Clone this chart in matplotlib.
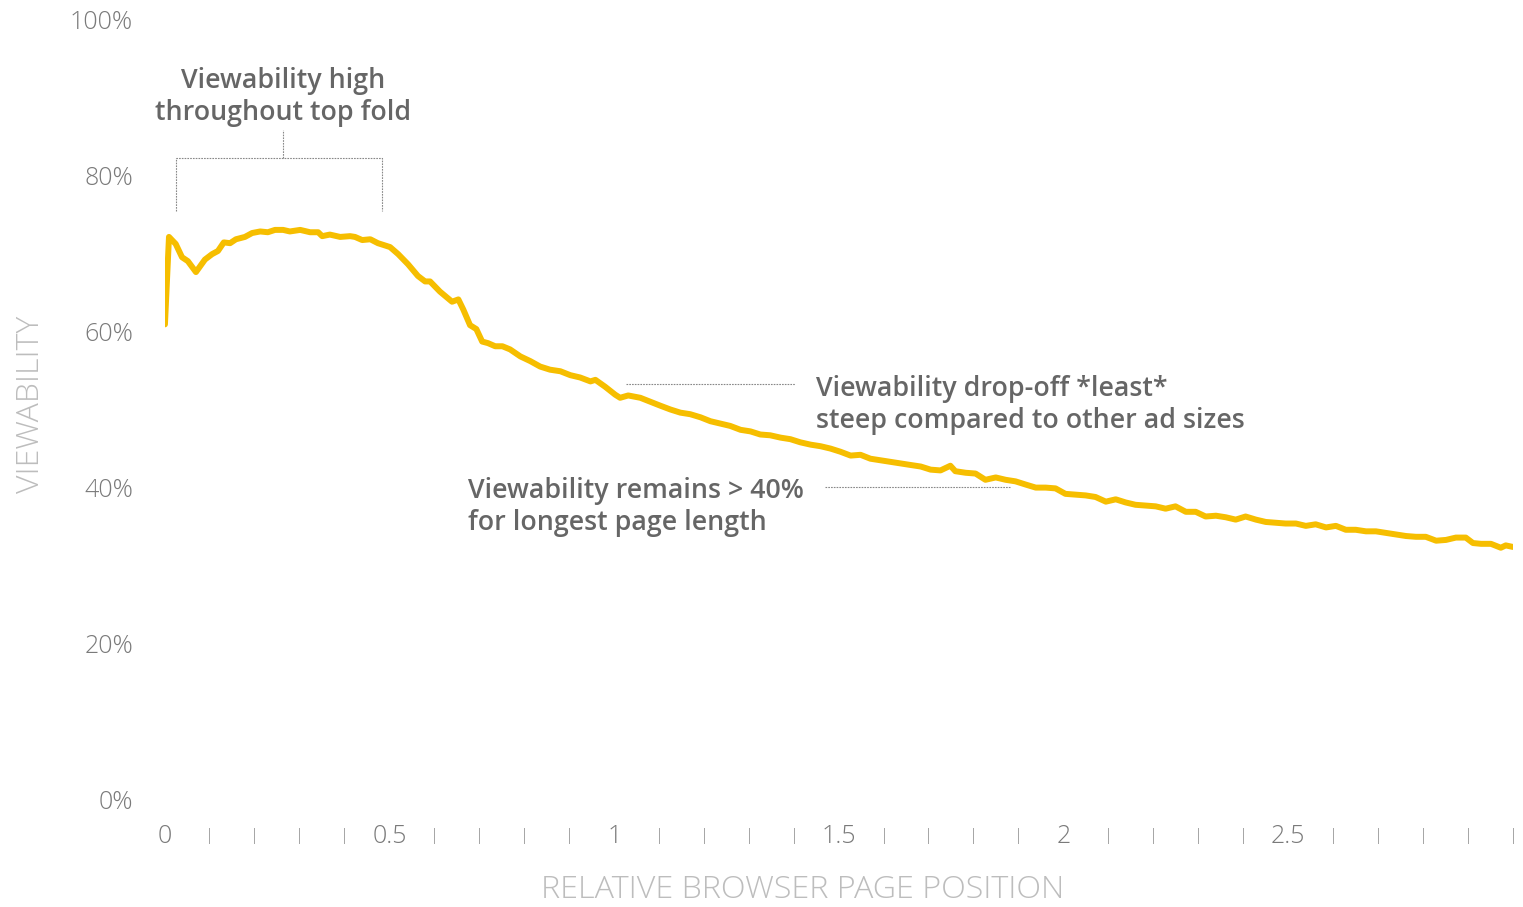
import numpy as np
import matplotlib.pyplot as plt

# relative page position (0 = top of page) and viewability in %
position = [0.000, 0.009, 0.024, 0.038, 0.051, 0.069, 0.089, 0.105, 0.118, 0.131,
            0.145, 0.158, 0.178, 0.194, 0.212, 0.229, 0.245, 0.263, 0.278, 0.301,
            0.323, 0.341, 0.350, 0.367, 0.390, 0.412, 0.423, 0.439, 0.457, 0.474,
            0.501, 0.519, 0.541, 0.563, 0.579, 0.590, 0.612, 0.639, 0.653, 0.664,
            0.679, 0.693, 0.706, 0.719, 0.735, 0.751, 0.768, 0.791, 0.813, 0.835,
            0.857, 0.880, 0.902, 0.924, 0.947, 0.958, 0.980, 1.002, 1.013, 1.031,
            1.058, 1.080, 1.102, 1.125, 1.147, 1.169, 1.192, 1.214, 1.236, 1.258,
            1.281, 1.303, 1.325, 1.347, 1.370, 1.392, 1.414, 1.437, 1.459, 1.481,
            1.503, 1.526, 1.548, 1.570, 1.592, 1.615, 1.637, 1.659, 1.682, 1.704,
            1.726, 1.748, 1.759, 1.782, 1.804, 1.826, 1.849, 1.871, 1.893, 1.915,
            1.938, 1.960, 1.982, 2.004, 2.027, 2.049, 2.071, 2.094, 2.116, 2.138,
            2.160, 2.183, 2.205, 2.227, 2.249, 2.272, 2.294, 2.316, 2.339, 2.361,
            2.383, 2.405, 2.428, 2.450, 2.472, 2.494, 2.517, 2.539, 2.561, 2.584,
            2.606, 2.628, 2.650, 2.673, 2.695, 2.717, 2.739, 2.762, 2.784, 2.806,
            2.829, 2.851, 2.873, 2.895, 2.911, 2.929, 2.951, 2.973, 2.984, 3.000]
viewability = [60.9, 72.1, 71.2, 69.5, 69.0, 67.6, 69.2, 69.9, 70.3, 71.4,
               71.3, 71.8, 72.1, 72.6, 72.8, 72.7, 73.0, 73.0, 72.8, 73.0,
               72.7, 72.7, 72.2, 72.4, 72.1, 72.2, 72.1, 71.7, 71.8, 71.3,
               70.8, 69.9, 68.6, 67.1, 66.4, 66.4, 65.1, 63.8, 64.1, 62.8,
               60.8, 60.3, 58.7, 58.5, 58.1, 58.1, 57.7, 56.8, 56.2, 55.5,
               55.1, 54.9, 54.4, 54.1, 53.6, 53.8, 52.9, 51.9, 51.5, 51.8,
               51.5, 51.0, 50.5, 50.0, 49.6, 49.4, 49.0, 48.5, 48.2, 47.9,
               47.4, 47.2, 46.8, 46.7, 46.4, 46.2, 45.8, 45.5, 45.3, 45.0,
               44.6, 44.1, 44.2, 43.7, 43.5, 43.3, 43.1, 42.9, 42.7, 42.3,
               42.2, 42.8, 42.1, 41.9, 41.8, 41.0, 41.3, 41.0, 40.8, 40.4,
               40.0, 40.0, 39.9, 39.2, 39.1, 39.0, 38.8, 38.2, 38.5, 38.1,
               37.8, 37.7, 37.6, 37.3, 37.6, 36.9, 36.9, 36.3, 36.4, 36.2,
               35.9, 36.3, 35.9, 35.6, 35.5, 35.4, 35.4, 35.1, 35.3, 34.9,
               35.1, 34.6, 34.6, 34.4, 34.4, 34.2, 34.0, 33.8, 33.7, 33.7,
               33.2, 33.3, 33.6, 33.6, 32.9, 32.8, 32.8, 32.3, 32.6, 32.4]

x_ticks = [round(0.1 * i, 1) for i in range(31)]
x_labels = {0.0: '0', 0.5: '0.5', 1.0: '1', 1.5: '1.5', 2.0: '2', 2.5: '2.5'}
y_ticks = [0, 20, 40, 60, 80, 100]
y_labels = ['0%', '20%', '40%', '60%', '80%', '100%']

plt.rcParams['font.family'] = ['Open Sans', 'DejaVu Sans']

fig = plt.figure(figsize=(15.23, 9.07), dpi=100)
ax = fig.add_axes([0.1083, 0.118, 0.8851, 0.861])

ax.plot(position, viewability, color='#F6BE00', lw=4.3, solid_joinstyle='round',
        solid_capstyle='round')

ax.set_xlim(0, 3)
ax.set_ylim(0, 100)
for s in ax.spines.values():
    s.set_visible(False)

# x ticks: numbers every 0.5, little bars in between
ax.set_xticks(x_ticks)
ax.set_xticklabels([x_labels.get(t, '|') for t in x_ticks])
ax.tick_params(axis='x', length=0, pad=17, labelsize=18, labelcolor='#7a7a7a')
for lab in ax.get_xticklabels():
    lab.set_fontweight('light')
    if lab.get_text() == '|':
        lab.set_fontsize(12.5)
        lab.set_color('#8a8a8a')
        lab.set_y(-0.006)

ax.set_yticks(y_ticks)
ax.set_yticklabels(y_labels)
ax.tick_params(axis='y', length=0, pad=23, labelsize=18, labelcolor='#7a7a7a')
for lab in ax.get_yticklabels():
    lab.set_fontweight('light')

ax.set_xlabel('RELATIVE BROWSER PAGE POSITION', fontsize=23.2, color='#bdbdbd',
              fontweight='light', va='center')
ax.xaxis.set_label_coords(0.473, -0.115)
ax.set_ylabel('VIEWABILITY', fontsize=23, color='#bdbdbd', fontweight='light',
              va='center')
ax.yaxis.set_label_coords(-0.0995, 0.506)

note_kw = dict(fontsize=19.3, color='#666666', fontweight='semibold',
               linespacing=1.2)
dash_kw = dict(color='#888888', lw=0.8, ls=(0, (1.5, 1.0)))

# bracket over the top fold
ax.text(0.263, 90.0, 'Viewability high\nthroughout top fold', ha='center',
        va='center', **note_kw)
ax.plot([0.0245, 0.0245, 0.483, 0.483], [75.4, 82.2, 82.2, 75.4], **dash_kw)
ax.plot([0.263, 0.263], [82.2, 85.8], **dash_kw)

ax.plot([1.027, 1.403], [53.3, 53.3], **dash_kw)
ax.text(1.448, 50.6, 'Viewability drop-off *least*\nsteep compared to other ad sizes',
        ha='left', va='center', **note_kw)

ax.plot([1.470, 1.882], [40.1, 40.1], **dash_kw)
ax.text(0.675, 37.5, 'Viewability remains > 40%\nfor longest page length',
        ha='left', va='center', **note_kw)

fig.savefig('out.png', dpi=100)
